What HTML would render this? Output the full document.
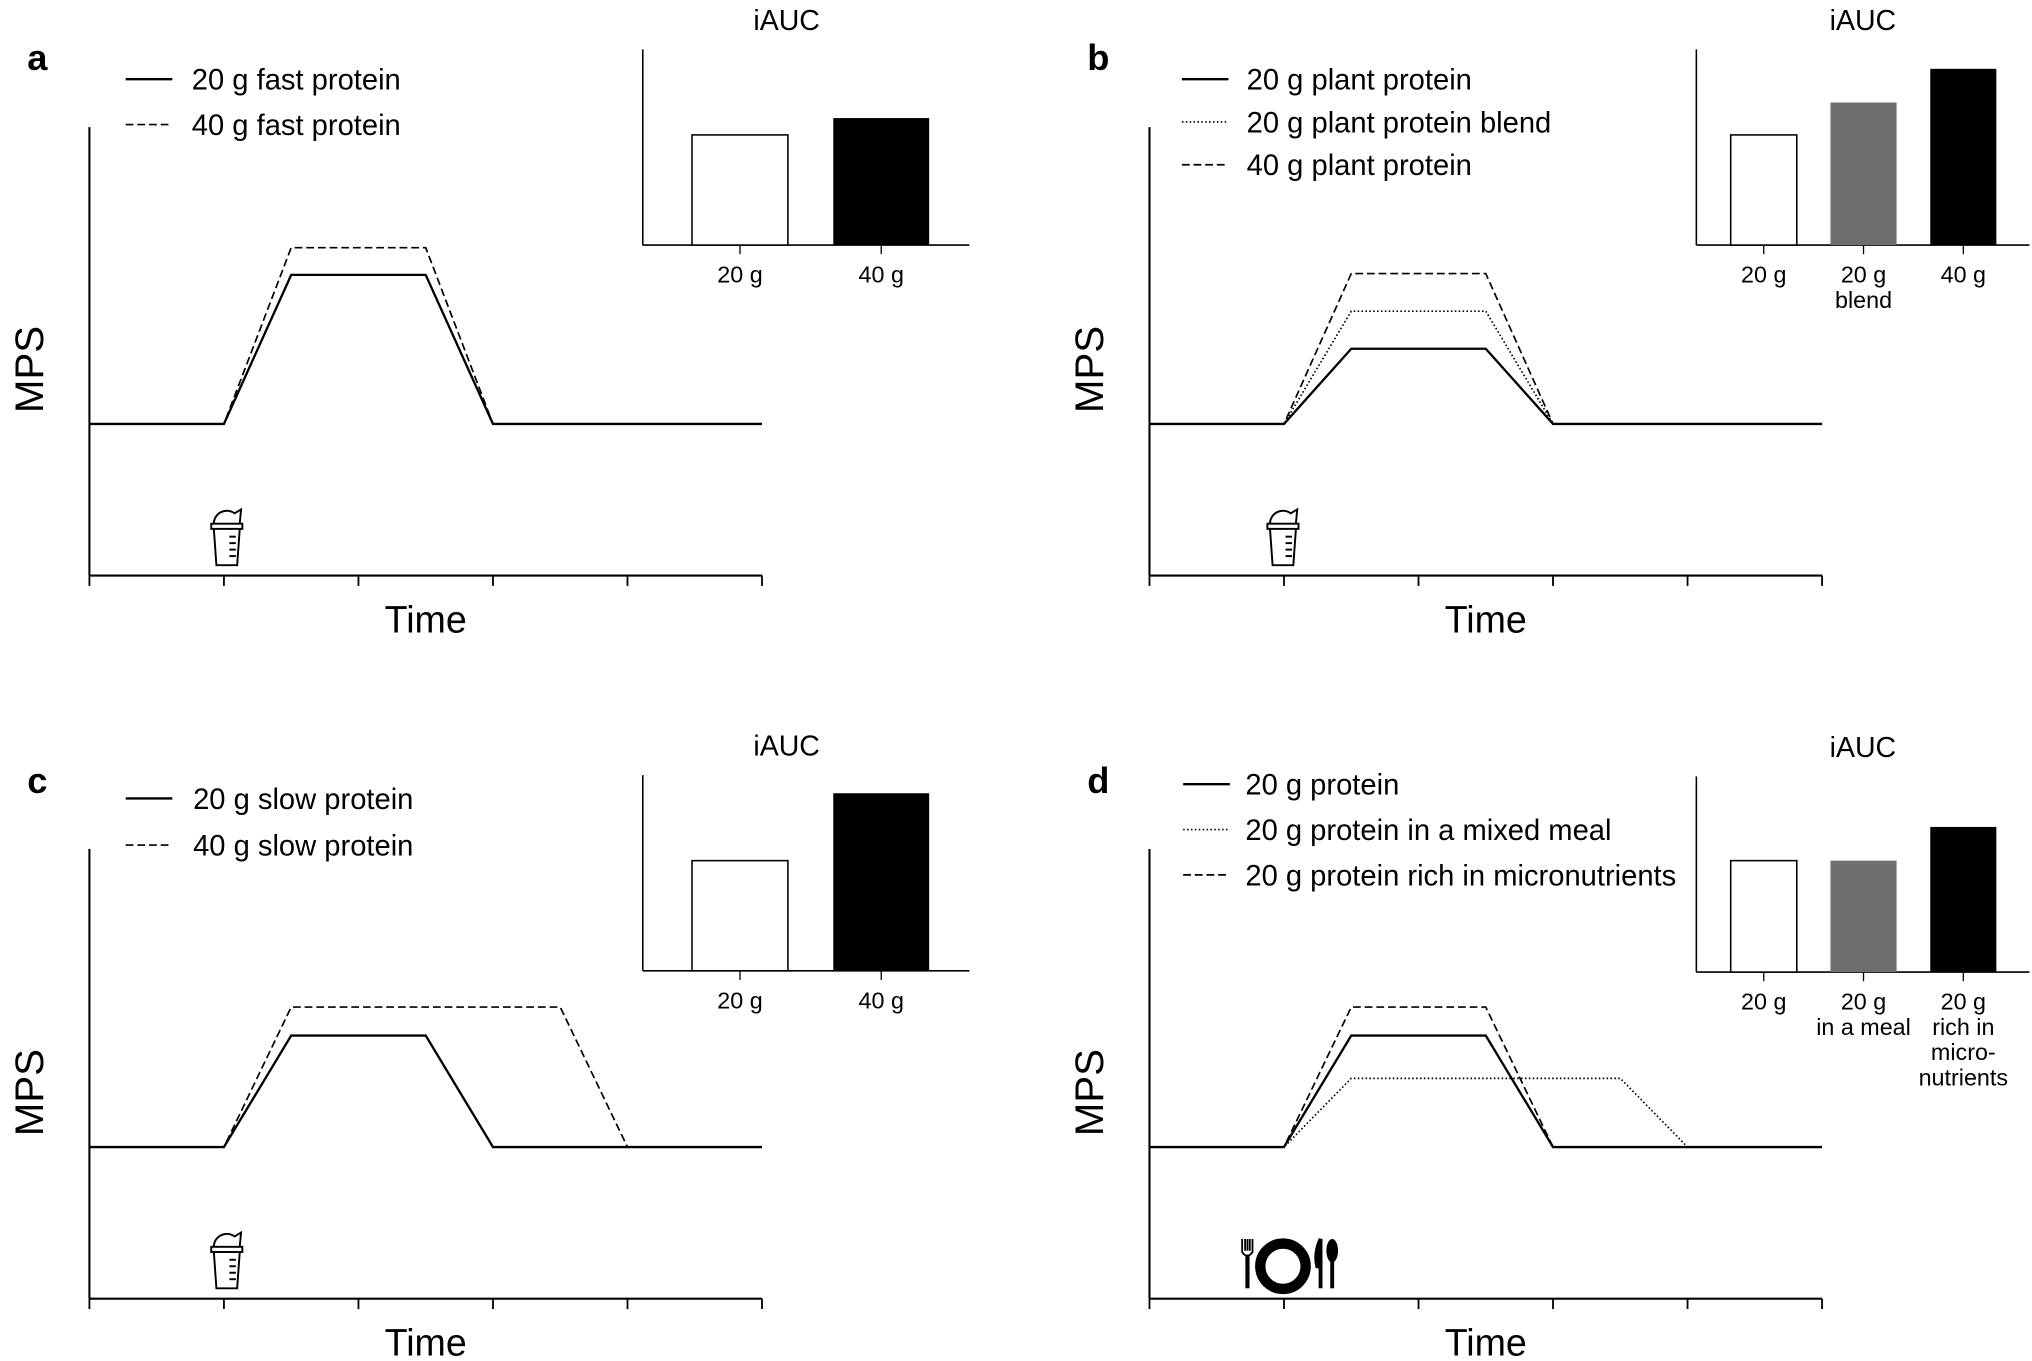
<!DOCTYPE html>
<html><head><meta charset="utf-8"><style>
html,body{margin:0;padding:0;background:#fff}
svg{display:block}
text{font-family:"Liberation Sans",sans-serif;fill:#000}
</style></head><body>
<svg id="fig" width="2032" height="1361" viewBox="0 0 1568 1050" xmlns="http://www.w3.org/2000/svg">
</svg>
<script>
// ---- data ----
const timeTicks = [0,1,2,3,4,5];
// MPS curves: time points and relative MPS values (arbitrary units)
const aTimes20 = [0,1,1.5,2.5,3,5];  const aMps20 = [0,0,115,115,0,0];
const aTimes40 = [0,1,1.5,2.5,3,5];  const aMps40 = [0,0,136,136,0,0];
const bTimesPlant = [0,1,1.5,2.5,3,5]; const bMpsPlant = [0,0,58,58,0,0];
const bTimesBlend = [0,1,1.5,2.5,3,5]; const bMpsBlend = [0,0,87,87,0,0];
const bTimes40 = [0,1,1.5,2.5,3,5];    const bMps40 = [0,0,116,116,0,0];
const cTimes20 = [0,1,1.5,2.5,3,5];   const cMps20 = [0,0,86,86,0,0];
const cTimes40 = [0,1,1.5,3.5,4,5];   const cMps40 = [0,0,108,108,0,0];
const dTimesProt = [0,1,1.5,2.5,3,5]; const dMpsProt = [0,0,86,86,0,0];
const dTimesMeal = [0,1,1.5,3.5,4,5]; const dMpsMeal = [0,0,53,53,0,0];
const dTimesMicro = [0,1,1.5,2.5,3,5];const dMpsMicro = [0,0,108,108,0,0];
// iAUC bars
const aBarLabels = [["20 g"],["40 g"]]; const aBarValues = [85,98];
const bBarLabels = [["20 g"],["20 g","blend"],["40 g"]]; const bBarValues = [85,110,136];
const cBarLabels = [["20 g"],["40 g"]]; const cBarValues = [85,137];
const dBarLabels = [["20 g"],["20 g","in a meal"],["20 g","rich in","micro-","nutrients"]]; const dBarValues = [86,86,112];

const NS="http://www.w3.org/2000/svg";
const svg=document.getElementById('fig');
function mk(tag,attrs,parent){const e=document.createElementNS(NS,tag);for(const k in attrs)e.setAttribute(k,attrs[k]);(parent||svg).appendChild(e);return e;}
function txt(x,y,s,size,parent,extra){const t=mk('text',Object.assign({x:x,y:y,'font-size':size},extra||{}),parent);t.textContent=s;return t;}
const dashes={solid:'none',dashed:'6,3',dotted:'1.2,1.8'};

function panel(o){
  const g=mk('g',{});
  
  
  const X0=o.x0, YB=o.yb, step=103.8;
  const sx=t=>X0+t*step, sy=v=>o.base-v;
  const L=txt(o.x0-48,o.yb-390,o.id,28,g,{'font-weight':'bold'});
  
  
  const ya=mk('line',{x1:X0,y1:o.ytop,x2:X0,y2:YB,stroke:'#000','stroke-width':1.6},g);
  
  
  const xa=mk('line',{x1:X0,y1:YB,x2:sx(5),y2:YB,stroke:'#000','stroke-width':1.6},g);
  
  
  timeTicks.forEach(t=>{const tk=mk('line',{x1:sx(t),y1:YB,x2:sx(t),y2:YB+8,stroke:'#000','stroke-width':1.4},g);
    
    });
  const xt=txt(sx(2.5),YB+44,'Time',29,g,{'text-anchor':'middle'});
  
  
  const yt=txt(0,0,'MPS',31,g,{'text-anchor':'middle',transform:`translate(${X0-36},${YB-159}) rotate(-90)`});
  
  
  o.series.forEach(s=>{
    const pts=s.t.map((t,i)=>sx(t)+','+sy(s.v[i])).join(' ');
    const p=mk('polyline',{points:pts,fill:'none',stroke:'#000','stroke-width':s.style==='solid'?1.8:1.3,'stroke-dasharray':dashes[s.style]},g);
    
    
  });
  o.series.slice().sort((a,b)=>a.lo-b.lo).forEach((s,i)=>{
    const ly=o.legY+i*o.legGap;
    const ll=mk('line',{x1:o.legX,y1:ly,x2:o.legX+36,y2:ly,stroke:'#000','stroke-width':s.style==='solid'?1.8:1.3,'stroke-dasharray':dashes[s.style]},g);
    
    
    const lt=txt(o.legX+o.legTx,ly+8,s.label,22.5,g);
    
    
  });
  const ix=o.ix, iy=o.iy, iw=o.iw, n=o.bars.length;
  const ia=mk('line',{x1:ix,y1:iy-151,x2:ix,y2:iy,stroke:'#000','stroke-width':1.2},g);
  
  
  const ib=mk('line',{x1:ix,y1:iy,x2:ix+iw,y2:iy,stroke:'#000','stroke-width':1.2},g);
  
  
  const it=txt(ix+iw/2+(n===2?-15:0),iy-166,'iAUC',22,g,{'text-anchor':'middle'});
  
  
  const fills=n===2?['#fff','#000']:['#fff','#6e6e6e','#000'];
  o.bars.forEach((v,i)=>{
    const cx=o.barCx[i], bw=o.barW;
    const r=mk('rect',{x:cx-bw/2,y:iy-v,width:bw,height:v,fill:fills[i],stroke:'#000','stroke-width':fills[i]==='#fff'?1.2:0},g);
    
    
    const tk=mk('line',{x1:cx,y1:iy,x2:cx,y2:iy+7,stroke:'#000','stroke-width':1},g);
    
    
    o.barLabels[i].forEach((s,j)=>{
      const bl=txt(cx,iy+29+j*19.5,s,18,g,{'text-anchor':'middle'});
      
      
    });
  });
  return {g,sx,YB};
}

function shaker(x,y,g){
  const s=mk('g',{transform:`translate(${x},${y})`,fill:'none',stroke:'#000','stroke-width':1.5},g);
  
  
  mk('path',{d:'M-10 12 A10 10 0 0 1 6 4 L11 1 L10 12'},s);
  mk('rect',{x:-12,y:12,width:24,height:4},s);
  mk('path',{d:'M-10 16 L-8 44 L8 44 L10 16'},s);
  [22,27,32,37].forEach(yy=>mk('line',{x1:2,y1:yy,x2:7,y2:yy},s));
}
function plate(g){
  const s=mk('g',{},g);
  
  
  mk('circle',{cx:990,cy:977,r:17.5,fill:'none',stroke:'#000','stroke-width':8},s);
  mk('rect',{x:961,y:968,width:3.2,height:26},s);
  mk('path',{d:'M958.5 956 L958.5 966 Q962.5 972 966.5 966 L966.5 956 M960.8 956 L960.8 965 M962.6 956 L962.6 965 M964.4 956 L964.4 965',stroke:'#000','stroke-width':1.4,fill:'none'},s);
  mk('path',{d:'M1019 994 L1019 956 Q1014 967 1016.5 977 L1019 977',fill:'#000',stroke:'#000','stroke-width':3},s);
  mk('ellipse',{cx:1028,cy:965,rx:4.5,ry:9},s);
  mk('rect',{x:1026.5,y:970,width:3,height:24},s);
}

const pa=panel({id:'a',x0:69,yb:444,ytop:98,base:327,legX:97,legY:61,legGap:35,legTx:51,
  series:[{name:'20g-fast',t:aTimes20,v:aMps20,style:'solid',label:'20 g fast protein',lo:0},
          {name:'40g-fast',t:aTimes40,v:aMps40,style:'dashed',label:'40 g fast protein',lo:1}],
  ix:496,iy:189,iw:252,bars:aBarValues,barLabels:aBarLabels,barCx:[571,680],barW:74});
shaker(175,392,pa.g);
const pb=panel({id:'b',x0:887,yb:444,ytop:98,base:327,legX:912,legY:61,legGap:33,legTx:50,
  series:[{name:'20g-plant',t:bTimesPlant,v:bMpsPlant,style:'solid',label:'20 g plant protein',lo:0},
          {name:'20g-blend',t:bTimesBlend,v:bMpsBlend,style:'dotted',label:'20 g plant protein blend',lo:1},
          {name:'40g-plant',t:bTimes40,v:bMps40,style:'dashed',label:'40 g plant protein',lo:2}],
  ix:1309,iy:189,iw:257,bars:bBarValues,barLabels:bBarLabels,barCx:[1361,1438,1515],barW:51});
shaker(990,392,pb.g);
const pc=panel({id:'c',x0:69,yb:1002,ytop:655,base:885,legX:97,legY:616,legGap:36,legTx:52,
  series:[{name:'20g-slow',t:cTimes20,v:cMps20,style:'solid',label:'20 g slow protein',lo:0},
          {name:'40g-slow',t:cTimes40,v:cMps40,style:'dashed',label:'40 g slow protein',lo:1}],
  ix:496,iy:749,iw:252,bars:cBarValues,barLabels:cBarLabels,barCx:[571,680],barW:74});
shaker(175,950,pc.g);
const pd=panel({id:'d',x0:887,yb:1002,ytop:655,base:885,legX:913,legY:605,legGap:35,legTx:48,
  series:[{name:'20g-protein',t:dTimesProt,v:dMpsProt,style:'solid',label:'20 g protein',lo:0},
          {name:'20g-mixed-meal',t:dTimesMeal,v:dMpsMeal,style:'dotted',label:'20 g protein in a mixed meal',lo:1},
          {name:'20g-micronutrients',t:dTimesMicro,v:dMpsMicro,style:'dashed',label:'20 g protein rich in micronutrients',lo:2}],
  ix:1309,iy:750,iw:257,bars:dBarValues,barLabels:dBarLabels,barCx:[1361,1438,1515],barW:51});
plate(pd.g);
</script>
</body></html>
